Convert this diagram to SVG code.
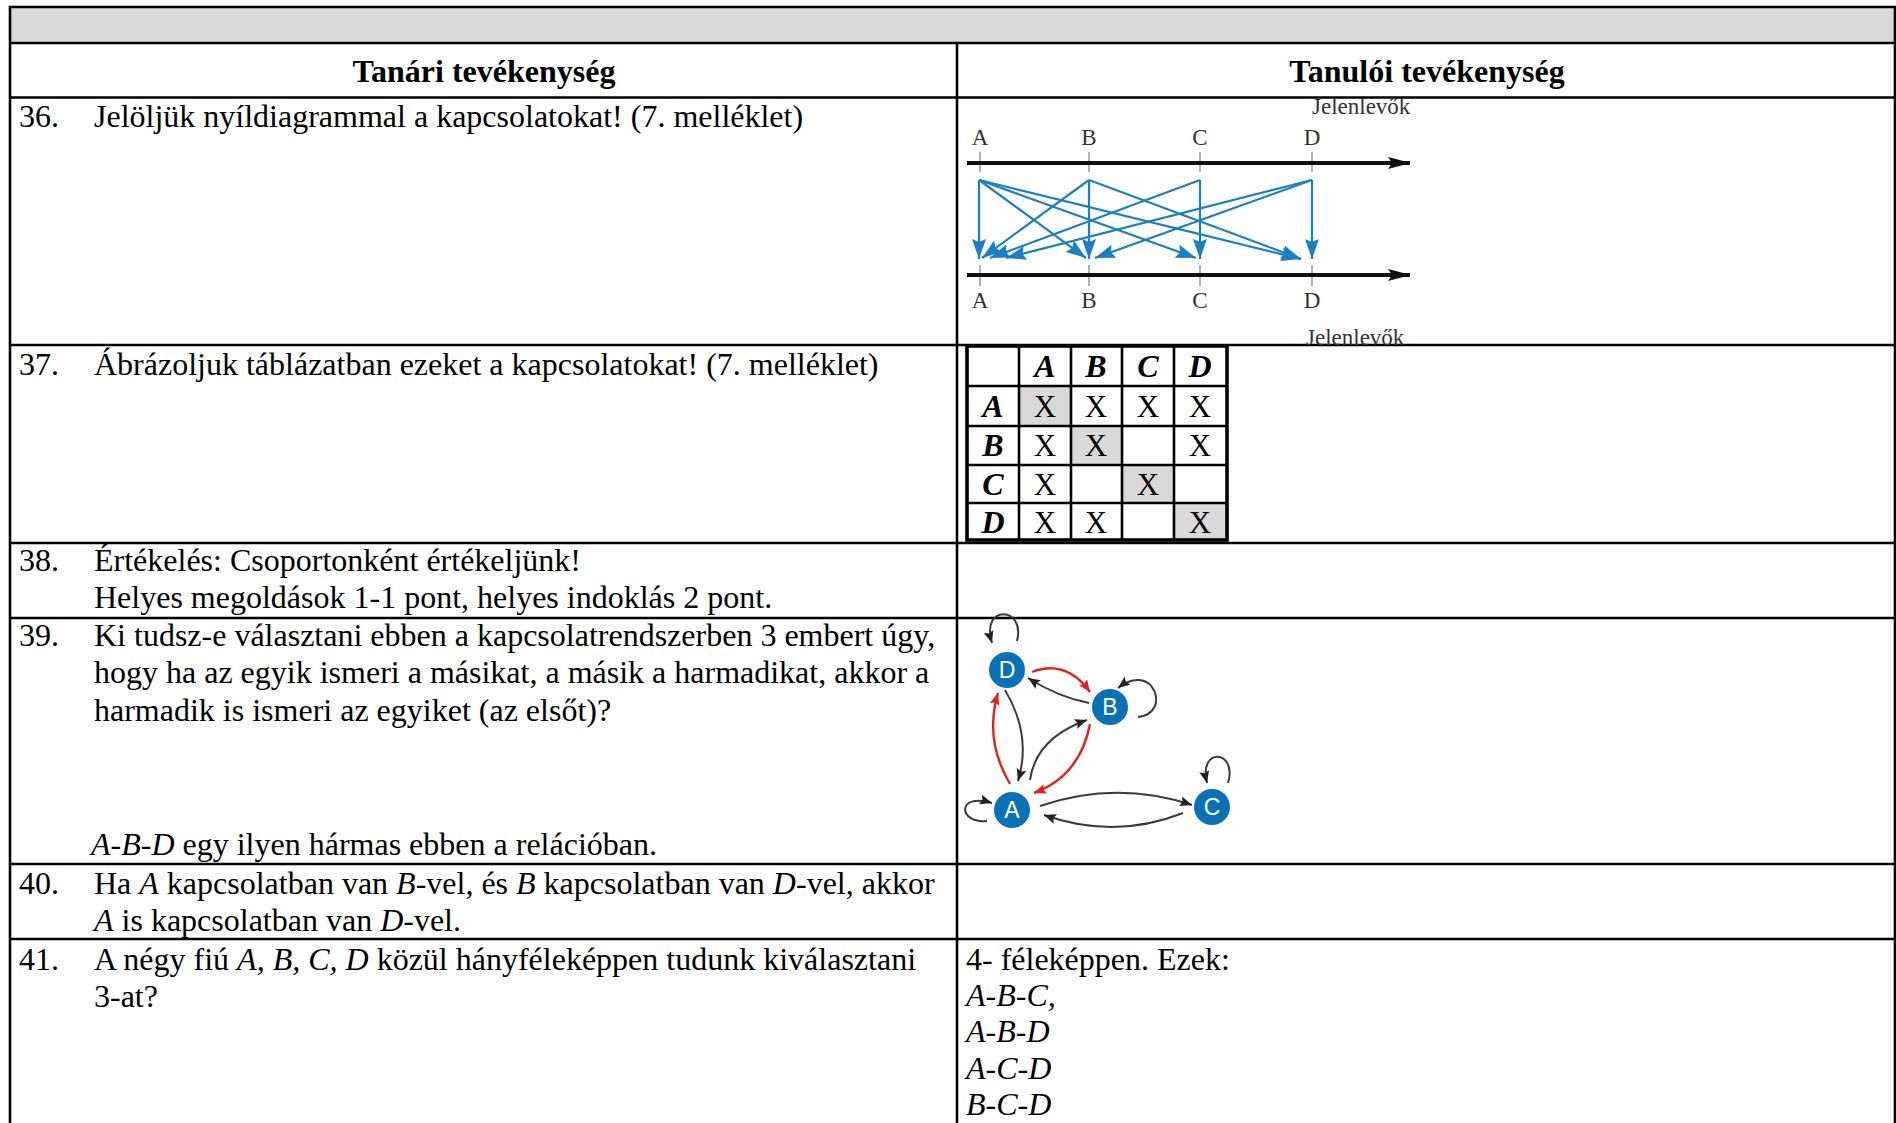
<svg xmlns="http://www.w3.org/2000/svg" width="1896" height="1123" viewBox="0 0 1896 1123">
<style>
.t{font-family:"Liberation Serif","Times New Roman",serif;font-size:32px;fill:#000}
.b{font-weight:bold}
.i{font-style:italic}
.grid{stroke:#000;stroke-width:2.6;fill:none}
.lbl{font-family:"Liberation Serif","Times New Roman",serif;font-size:23px;fill:#333}
.mx{font-family:"Liberation Serif","Times New Roman",serif;font-size:31px;fill:#000;text-anchor:middle}
.mh{font-family:"Liberation Serif","Times New Roman",serif;font-size:32px;font-weight:bold;font-style:italic;fill:#000;text-anchor:middle}
.blue{stroke:#1b7fc3;stroke-width:2.2;fill:none;marker-end:url(#bh)}
.tick{stroke:#999;stroke-width:1.5}
.ge{stroke:#3a3a3a;stroke-width:2;fill:none;marker-end:url(#kh)}
.gr{stroke:#e2231a;stroke-width:2.4;fill:none;marker-end:url(#rh)}
.node{fill:#0a71b7}
.nl{font-family:"Liberation Sans",Arial,sans-serif;font-size:23px;fill:#fff;text-anchor:middle}
</style>
<defs>
<marker id="bh" markerUnits="userSpaceOnUse" markerWidth="22" markerHeight="16" refX="20" refY="7" orient="auto"><path d="M0,0 L20,7 L0,14 L3,7 z" fill="#1b7fc3"/></marker>
<marker id="kh" markerUnits="userSpaceOnUse" markerWidth="13" markerHeight="11" refX="12" refY="5.5" orient="auto"><path d="M0,0.5 L12,5.5 L0,10.5 L2,5.5 z" fill="#222"/></marker>
<marker id="rh" markerUnits="userSpaceOnUse" markerWidth="13" markerHeight="11" refX="12" refY="5.5" orient="auto"><path d="M0,0.5 L12,5.5 L0,10.5 L2,5.5 z" fill="#e2231a"/></marker>
<marker id="ax" markerUnits="userSpaceOnUse" markerWidth="24" markerHeight="14" refX="22" refY="7" orient="auto"><path d="M0,1 L23,7 L0,13 L4,7 z" fill="#111"/></marker>
</defs>

<rect x="0" y="0" width="1896" height="1123" fill="#fff"/>

<g id="frame">
<rect x="10" y="7" width="1885" height="36" fill="#d9d9d9"/>
<path class="grid" d="M10,1123 V7 H1895 V1123 M10,43 H1895 M10,97.5 H1895 M957,43 V1123 M10,345 H1895 M10,543 H1895 M10,618 H1895 M10,864 H1895 M10,939 H1895"/>
</g>

<g id="headers">
<text class="t b" x="484" y="82" text-anchor="middle">Tanári tevékenység</text>
<text class="t b" x="1427" y="82" text-anchor="middle">Tanulói tevékenység</text>
</g>

<g id="row36">
<text class="t" x="19" y="127">36.</text>
<text class="t" x="94" y="127">Jelöljük nyíldiagrammal a kapcsolatokat! (7. melléklet)</text>
</g>

<g id="arrow-diagram">
<text class="lbl" x="1312" y="114">Jelenlevők</text>
<text class="lbl" x="980" y="145" text-anchor="middle">A</text>
<text class="lbl" x="1089" y="145" text-anchor="middle">B</text>
<text class="lbl" x="1200" y="145" text-anchor="middle">C</text>
<text class="lbl" x="1312" y="145" text-anchor="middle">D</text>
<line class="tick" x1="980" y1="152" x2="980" y2="172"/>
<line class="tick" x1="1089" y1="152" x2="1089" y2="172"/>
<line class="tick" x1="1200" y1="152" x2="1200" y2="172"/>
<line class="tick" x1="1312" y1="152" x2="1312" y2="172"/>
<line x1="967" y1="163" x2="1410" y2="163" stroke="#111" stroke-width="4" marker-end="url(#ax)"/>
<line class="tick" x1="980" y1="265" x2="980" y2="286"/>
<line class="tick" x1="1089" y1="265" x2="1089" y2="286"/>
<line class="tick" x1="1200" y1="265" x2="1200" y2="286"/>
<line class="tick" x1="1312" y1="265" x2="1312" y2="286"/>
<line x1="967" y1="275" x2="1410" y2="275" stroke="#111" stroke-width="4" marker-end="url(#ax)"/>
<text class="lbl" x="980" y="308" text-anchor="middle">A</text>
<text class="lbl" x="1089" y="308" text-anchor="middle">B</text>
<text class="lbl" x="1200" y="308" text-anchor="middle">C</text>
<text class="lbl" x="1312" y="308" text-anchor="middle">D</text>
<text class="lbl" x="1306" y="345">Jelenlevők</text>
</g>

<g id="connectors">
<g id="blue-arrows">
<path class="blue" d="M979,180 V259"/>
<path class="blue" d="M979,180 L1086,258"/>
<path class="blue" d="M979,180 L1196,258"/>
<path class="blue" d="M979,180 L1301,259"/>
<path class="blue" d="M1089,180 L982,258"/>
<path class="blue" d="M1089,180 V259"/>
<path class="blue" d="M1089,180 L1301,259"/>
<path class="blue" d="M1200,180 L990,258"/>
<path class="blue" d="M1200,180 V259"/>
<path class="blue" d="M1312,180 L1006,258"/>
<path class="blue" d="M1312,180 L1095,258"/>
<path class="blue" d="M1312,180 V259"/>
</g>
<g id="graph-edges">
<path class="ge" d="M1017,641 C1026,606 980,604 992,643"/>
<path class="gr" d="M1032,672 Q1066,659 1090,692"/>
<path class="ge" d="M1089,703 Q1058,697 1028,678"/>
<path class="ge" d="M1138,717 C1172,714 1154,660 1118,688"/>
<path class="ge" d="M987,821 C958,824 956,792 992,803"/>
<path class="ge" d="M1005,690 Q1032,735 1018,781"/>
<path class="gr" d="M1010,784 Q984,740 998,693"/>
<path class="ge" d="M1030,780 Q1036,738 1087,720"/>
<path class="gr" d="M1090,724 Q1080,776 1034,793"/>
<path class="ge" d="M1040,806 Q1116,780 1192,805"/>
<path class="ge" d="M1183,813 Q1115,840 1044,815"/>
<path class="ge" d="M1228,783 C1238,750 1198,746 1207,783"/>
</g>
</g>

<g id="node-D"><circle class="node" cx="1007" cy="670" r="18"/><text class="nl" x="1007" y="678">D</text></g>
<g id="node-B"><circle class="node" cx="1110" cy="707" r="18"/><text class="nl" x="1110" y="715">B</text></g>
<g id="node-A"><circle class="node" cx="1012" cy="810" r="18"/><text class="nl" x="1012" y="818">A</text></g>
<g id="node-C"><circle class="node" cx="1212" cy="807" r="18"/><text class="nl" x="1212" y="815">C</text></g>

<g id="row37">
<text class="t" x="19" y="375">37.</text>
<text class="t" x="94" y="375">Ábrázoljuk táblázatban ezeket a kapcsolatokat! (7. melléklet)</text>
</g>

<g id="matrix">
<rect x="1019" y="386" width="52" height="40" fill="#d9d9d9"/>
<rect x="1071" y="426" width="51" height="39" fill="#d9d9d9"/>
<rect x="1122" y="465" width="52" height="38" fill="#d9d9d9"/>
<rect x="1174" y="503" width="53" height="37" fill="#d9d9d9"/>
<path class="grid" d="M1019,346 V540 M1071,346 V540 M1122,346 V540 M1174,346 V540 M967,386 H1227 M967,426 H1227 M967,465 H1227 M967,503 H1227"/>
<rect x="967" y="346" width="260" height="194" fill="none" stroke="#000" stroke-width="3.6"/>
<text class="mh" x="1045" y="377">A</text>
<text class="mh" x="1096" y="377">B</text>
<text class="mh" x="1148" y="377">C</text>
<text class="mh" x="1200" y="377">D</text>
<text class="mh" x="993" y="417">A</text>
<text class="mh" x="993" y="456">B</text>
<text class="mh" x="993" y="495">C</text>
<text class="mh" x="993" y="533">D</text>
<text class="mx" x="1045" y="417">X</text>
<text class="mx" x="1096" y="417">X</text>
<text class="mx" x="1148" y="417">X</text>
<text class="mx" x="1200" y="417">X</text>
<text class="mx" x="1045" y="456">X</text>
<text class="mx" x="1096" y="456">X</text>
<text class="mx" x="1200" y="456">X</text>
<text class="mx" x="1045" y="495">X</text>
<text class="mx" x="1148" y="495">X</text>
<text class="mx" x="1045" y="533">X</text>
<text class="mx" x="1096" y="533">X</text>
<text class="mx" x="1200" y="533">X</text>
</g>

<g id="row38">
<text class="t" x="19" y="571">38.</text>
<text class="t" x="94" y="571">Értékelés: Csoportonként értékeljünk!</text>
<text class="t" x="94" y="608">Helyes megoldások 1-1 pont, helyes indoklás 2 pont.</text>
</g>

<g id="row39">
<text class="t" x="19" y="646">39.</text>
<text class="t" x="94" y="646">Ki tudsz-e választani ebben a kapcsolatrendszerben 3 embert úgy,</text>
<text class="t" x="94" y="683">hogy ha az egyik ismeri a másikat, a másik a harmadikat, akkor a</text>
<text class="t" x="94" y="721">harmadik is ismeri az egyiket (az elsőt)?</text>
<text class="t" x="91" y="855"><tspan class="i">A-B-D</tspan> egy ilyen hármas ebben a relációban.</text>
</g>

<g id="row40">
<text class="t" x="19" y="894">40.</text>
<text class="t" x="94" y="894">Ha <tspan class="i">A</tspan> kapcsolatban van <tspan class="i">B</tspan>-vel, és <tspan class="i">B</tspan> kapcsolatban van <tspan class="i">D</tspan>-vel, akkor</text>
<text class="t" x="94" y="931"><tspan class="i">A</tspan> is kapcsolatban van <tspan class="i">D</tspan>-vel.</text>
</g>

<g id="row41">
<text class="t" x="19" y="970">41.</text>
<text class="t" x="94" y="970">A négy fiú <tspan class="i">A, B, C, D</tspan> közül hányféleképpen tudunk kiválasztani</text>
<text class="t" x="94" y="1007">3-at?</text>
<text class="t" x="966" y="970">4- féleképpen. Ezek:</text>
<text class="t i" x="966" y="1006">A-B-C,</text>
<text class="t i" x="966" y="1042">A-B-D</text>
<text class="t i" x="966" y="1079">A-C-D</text>
<text class="t i" x="966" y="1115">B-C-D</text>
</g>
</svg>
